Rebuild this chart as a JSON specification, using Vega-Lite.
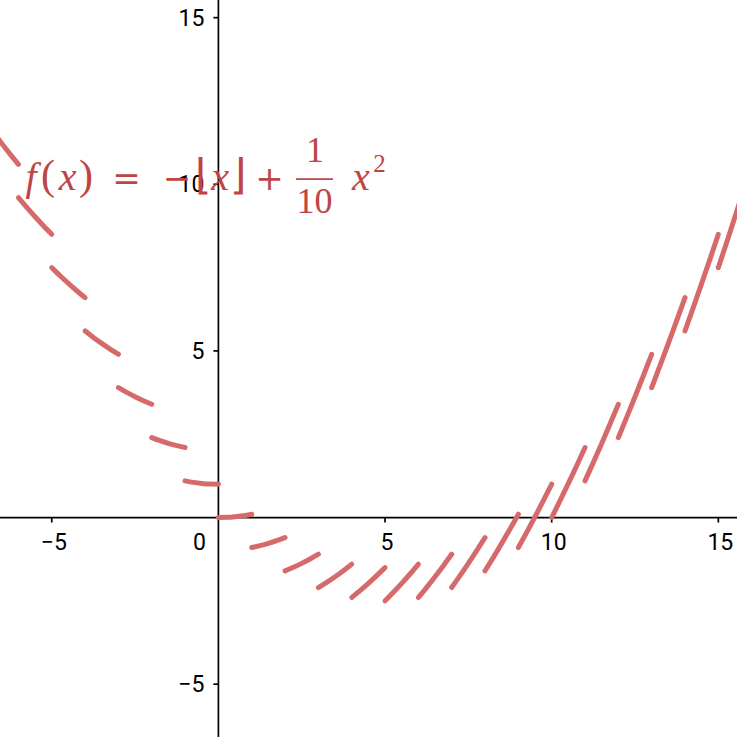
{
  "$schema": "https://vega.github.io/schema/vega-lite/v6.json",
  "width": 737,
  "height": 737,
  "padding": 0,
  "autosize": {"type": "fit", "contains": "padding"},
  "background": "white",
  "config": {"view": {"stroke": null}},
  "datasets": {
    "curve": [
      {"n": -7, "x": -7, "y": 11.9}, {"n": -7, "x": -6.75, "y": 11.556}, {"n": -7, "x": -6.5, "y": 11.225}, {"n": -7, "x": -6.25, "y": 10.906}, {"n": -7, "x": -6, "y": 10.6},
      {"n": -6, "x": -6, "y": 9.6}, {"n": -6, "x": -5.75, "y": 9.306}, {"n": -6, "x": -5.5, "y": 9.025}, {"n": -6, "x": -5.25, "y": 8.756}, {"n": -6, "x": -5, "y": 8.5},
      {"n": -5, "x": -5, "y": 7.5}, {"n": -5, "x": -4.75, "y": 7.256}, {"n": -5, "x": -4.5, "y": 7.025}, {"n": -5, "x": -4.25, "y": 6.806}, {"n": -5, "x": -4, "y": 6.6},
      {"n": -4, "x": -4, "y": 5.6}, {"n": -4, "x": -3.75, "y": 5.406}, {"n": -4, "x": -3.5, "y": 5.225}, {"n": -4, "x": -3.25, "y": 5.056}, {"n": -4, "x": -3, "y": 4.9},
      {"n": -3, "x": -3, "y": 3.9}, {"n": -3, "x": -2.75, "y": 3.756}, {"n": -3, "x": -2.5, "y": 3.625}, {"n": -3, "x": -2.25, "y": 3.506}, {"n": -3, "x": -2, "y": 3.4},
      {"n": -2, "x": -2, "y": 2.4}, {"n": -2, "x": -1.75, "y": 2.306}, {"n": -2, "x": -1.5, "y": 2.225}, {"n": -2, "x": -1.25, "y": 2.156}, {"n": -2, "x": -1, "y": 2.1},
      {"n": -1, "x": -1, "y": 1.1}, {"n": -1, "x": -0.75, "y": 1.056}, {"n": -1, "x": -0.5, "y": 1.025}, {"n": -1, "x": -0.25, "y": 1.006}, {"n": -1, "x": 0, "y": 1.0},
      {"n": 0, "x": 0, "y": 0}, {"n": 0, "x": 0.25, "y": 0.006}, {"n": 0, "x": 0.5, "y": 0.025}, {"n": 0, "x": 0.75, "y": 0.056}, {"n": 0, "x": 1, "y": 0.1},
      {"n": 1, "x": 1, "y": -0.9}, {"n": 1, "x": 1.25, "y": -0.844}, {"n": 1, "x": 1.5, "y": -0.775}, {"n": 1, "x": 1.75, "y": -0.694}, {"n": 1, "x": 2, "y": -0.6},
      {"n": 2, "x": 2, "y": -1.6}, {"n": 2, "x": 2.25, "y": -1.494}, {"n": 2, "x": 2.5, "y": -1.375}, {"n": 2, "x": 2.75, "y": -1.244}, {"n": 2, "x": 3, "y": -1.1},
      {"n": 3, "x": 3, "y": -2.1}, {"n": 3, "x": 3.25, "y": -1.944}, {"n": 3, "x": 3.5, "y": -1.775}, {"n": 3, "x": 3.75, "y": -1.594}, {"n": 3, "x": 4, "y": -1.4},
      {"n": 4, "x": 4, "y": -2.4}, {"n": 4, "x": 4.25, "y": -2.194}, {"n": 4, "x": 4.5, "y": -1.975}, {"n": 4, "x": 4.75, "y": -1.744}, {"n": 4, "x": 5, "y": -1.5},
      {"n": 5, "x": 5, "y": -2.5}, {"n": 5, "x": 5.25, "y": -2.244}, {"n": 5, "x": 5.5, "y": -1.975}, {"n": 5, "x": 5.75, "y": -1.694}, {"n": 5, "x": 6, "y": -1.4},
      {"n": 6, "x": 6, "y": -2.4}, {"n": 6, "x": 6.25, "y": -2.094}, {"n": 6, "x": 6.5, "y": -1.775}, {"n": 6, "x": 6.75, "y": -1.444}, {"n": 6, "x": 7, "y": -1.1},
      {"n": 7, "x": 7, "y": -2.1}, {"n": 7, "x": 7.25, "y": -1.744}, {"n": 7, "x": 7.5, "y": -1.375}, {"n": 7, "x": 7.75, "y": -0.994}, {"n": 7, "x": 8, "y": -0.6},
      {"n": 8, "x": 8, "y": -1.6}, {"n": 8, "x": 8.25, "y": -1.194}, {"n": 8, "x": 8.5, "y": -0.775}, {"n": 8, "x": 8.75, "y": -0.344}, {"n": 8, "x": 9, "y": 0.1},
      {"n": 9, "x": 9, "y": -0.9}, {"n": 9, "x": 9.25, "y": -0.444}, {"n": 9, "x": 9.5, "y": 0.025}, {"n": 9, "x": 9.75, "y": 0.506}, {"n": 9, "x": 10, "y": 1.0},
      {"n": 10, "x": 10, "y": 0}, {"n": 10, "x": 10.25, "y": 0.506}, {"n": 10, "x": 10.5, "y": 1.025}, {"n": 10, "x": 10.75, "y": 1.556}, {"n": 10, "x": 11, "y": 2.1},
      {"n": 11, "x": 11, "y": 1.1}, {"n": 11, "x": 11.25, "y": 1.656}, {"n": 11, "x": 11.5, "y": 2.225}, {"n": 11, "x": 11.75, "y": 2.806}, {"n": 11, "x": 12, "y": 3.4},
      {"n": 12, "x": 12, "y": 2.4}, {"n": 12, "x": 12.25, "y": 3.006}, {"n": 12, "x": 12.5, "y": 3.625}, {"n": 12, "x": 12.75, "y": 4.256}, {"n": 12, "x": 13, "y": 4.9},
      {"n": 13, "x": 13, "y": 3.9}, {"n": 13, "x": 13.25, "y": 4.556}, {"n": 13, "x": 13.5, "y": 5.225}, {"n": 13, "x": 13.75, "y": 5.906}, {"n": 13, "x": 14, "y": 6.6},
      {"n": 14, "x": 14, "y": 5.6}, {"n": 14, "x": 14.25, "y": 6.306}, {"n": 14, "x": 14.5, "y": 7.025}, {"n": 14, "x": 14.75, "y": 7.756}, {"n": 14, "x": 15, "y": 8.5},
      {"n": 15, "x": 15, "y": 7.5}, {"n": 15, "x": 15.25, "y": 8.256}, {"n": 15, "x": 15.5, "y": 9.025}, {"n": 15, "x": 15.75, "y": 9.806}, {"n": 15, "x": 16, "y": 10.6}
    ],
    "rules": [
      {"x": -7, "y": 0, "x2": 16, "y2": 0},
      {"x": 0, "y": -7, "x2": 0, "y2": 16},
      {"x": -5, "y": 0, "x2": -5, "y2": -0.15},
      {"x": 5, "y": 0, "x2": 5, "y2": -0.15},
      {"x": 10, "y": 0, "x2": 10, "y2": -0.15},
      {"x": 15, "y": 0, "x2": 15, "y2": -0.15},
      {"x": -0.15, "y": -5, "x2": 0, "y2": -5},
      {"x": -0.15, "y": 5, "x2": 0, "y2": 5},
      {"x": -0.15, "y": 10, "x2": 0, "y2": 10},
      {"x": -0.15, "y": 15, "x2": 0, "y2": 15}
    ],
    "xlabels": [
      {"x": -5, "y": 0, "t": "−5"},
      {"x": 5, "y": 0, "t": "5"},
      {"x": 10, "y": 0, "t": "10"},
      {"x": 15, "y": 0, "t": "15"}
    ],
    "ylabels": [
      {"x": 0, "y": -5, "t": "−5"},
      {"x": 0, "y": 5, "t": "5"},
      {"x": 0, "y": 10, "t": "10"},
      {"x": 0, "y": 15, "t": "15"}
    ],
    "origin": [{"x": 0, "y": 0, "t": "0"}],
    "fItalic": [
      {"x": -5.622, "y": 9.826, "t": "f"},
      {"x": -4.527, "y": 9.826, "t": "x"},
      {"x": 0.048, "y": 9.826, "t": "x"},
      {"x": 4.278, "y": 9.826, "t": "x"}
    ],
    "fDelim": [
      {"x": -5.112, "y": 9.85, "t": "("},
      {"x": -3.972, "y": 9.85, "t": ")"},
      {"x": -0.462, "y": 9.85, "t": "⌊"},
      {"x": 0.573, "y": 9.85, "t": "⌋"}
    ],
    "fOps": [
      {"x": -2.757, "y": 9.826, "t": "="},
      {"x": -1.242, "y": 9.826, "t": "−"},
      {"x": 1.533, "y": 9.826, "t": "+"}
    ],
    "fRoman": [
      {"x": 2.898, "y": 10.666, "t": "1"},
      {"x": 2.883, "y": 9.136, "t": "10"}
    ],
    "fSup": [{"x": 4.833, "y": 10.366, "t": "2"}],
    "fBar": [{"x": 2.328, "y": 10.156, "x2": 3.438, "y2": 10.156}]
  },
  "encoding": {
    "x": {"field": "x", "type": "quantitative", "scale": {"domain": [-6.553, 15.56], "nice": false, "zero": false}, "axis": null},
    "y": {"field": "y", "type": "quantitative", "scale": {"domain": [-6.585, 15.53], "nice": false, "zero": false}, "axis": null}
  },
  "layer": [
    {
      "data": {"name": "rules"},
      "mark": {"type": "rule", "color": "#000000", "strokeWidth": 1.7, "clip": true},
      "encoding": {"x2": {"field": "x2"}, "y2": {"field": "y2"}}
    },
    {
      "data": {"name": "curve"},
      "mark": {"type": "line", "color": "#d66a6b", "strokeWidth": 5, "strokeCap": "round", "interpolate": "monotone", "clip": true},
      "encoding": {"detail": {"field": "n", "type": "nominal"}, "order": {"field": "x", "type": "quantitative"}}
    },
    {
      "data": {"name": "xlabels"},
      "mark": {"type": "text", "font": "Roboto", "fontSize": 23, "align": "center", "baseline": "alphabetic", "dy": 32.5, "dx": 2, "color": "#000000"},
      "encoding": {"text": {"field": "t"}}
    },
    {
      "data": {"name": "ylabels"},
      "mark": {"type": "text", "font": "Roboto", "fontSize": 23, "align": "right", "baseline": "alphabetic", "dy": 8, "dx": -14, "color": "#000000"},
      "encoding": {"text": {"field": "t"}}
    },
    {
      "data": {"name": "origin"},
      "mark": {"type": "text", "font": "Roboto", "fontSize": 23, "align": "right", "baseline": "alphabetic", "dy": 32.5, "dx": -12.4, "color": "#000000"},
      "encoding": {"text": {"field": "t"}}
    },
    {
      "data": {"name": "fItalic"},
      "mark": {"type": "text", "font": "Liberation Serif", "fontStyle": "italic", "fontSize": 40, "align": "center", "baseline": "alphabetic", "color": "#c04444"},
      "encoding": {"text": {"field": "t"}}
    },
    {
      "data": {"name": "fDelim"},
      "mark": {"type": "text", "font": "Liberation Serif", "fontSize": 42, "align": "center", "baseline": "alphabetic", "color": "#c04444"},
      "encoding": {"text": {"field": "t"}}
    },
    {
      "data": {"name": "fOps"},
      "mark": {"type": "text", "font": "DejaVu Serif", "fontSize": 34, "align": "center", "baseline": "alphabetic", "color": "#c04444"},
      "encoding": {"text": {"field": "t"}}
    },
    {
      "data": {"name": "fRoman"},
      "mark": {"type": "text", "font": "Liberation Serif", "fontSize": 36, "align": "center", "baseline": "alphabetic", "color": "#c04444"},
      "encoding": {"text": {"field": "t"}}
    },
    {
      "data": {"name": "fSup"},
      "mark": {"type": "text", "font": "Liberation Serif", "fontSize": 25, "align": "center", "baseline": "alphabetic", "color": "#c04444"},
      "encoding": {"text": {"field": "t"}}
    },
    {
      "data": {"name": "fBar"},
      "mark": {"type": "rule", "color": "#c04444", "strokeWidth": 1.6},
      "encoding": {"x2": {"field": "x2"}, "y2": {"field": "y2"}}
    }
  ]
}
